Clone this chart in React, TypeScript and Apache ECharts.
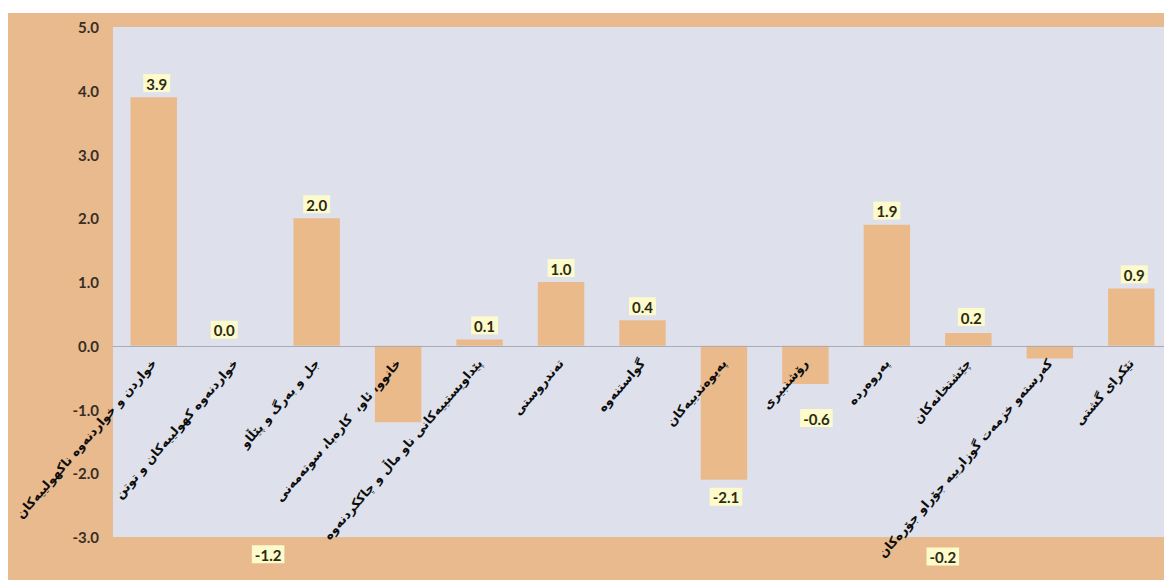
import React, { useEffect, useRef } from "react";
import * as echarts from "echarts";

const categories: string[] = [
  "خواردن و خواردنەوە ناکهولییەکان",
  "خواردنەوە کهولییەکان و توتن",
  "جل و بەرگ و پێڵاو",
  "خانوو، ئاو،  کارەبا، سوتەمەنی",
  "پێداویستییەکانی ناو ماڵ و چاککردنەوە",
  "تەندروستی",
  "گواستنەوە",
  "پەیوەندییەکان",
  "رۆشنبیری",
  "پەروەردە",
  "چێشتخانەکان",
  "کەرستەو خزمەت گوزارییە جۆراو جۆرەکان",
  "تێکرای گشتی",
];

const values: number[] = [3.9, 0.0, 2.0, -1.2, 0.1, 1.0, 0.4, -2.1, -0.6, 1.9, 0.2, -0.2, 0.9];

const yTicks = { min: -3, max: 5, interval: 1 };

// label offsets (styling only)
const labelOffsets: [number, number][] = [
  [3, 0], [-11, -2], [0, 0], [-130, 118], [5, 0], [0, 0], [0, 0],
  [2, 3], [11, 20], [0, 0], [3, -2], [-107, 184], [3, 0],
];

const GRID_TOP = 14;
const GRID_BOTTOM = 43;
const CHART_H = 567;

export default function App() {
  const ref = useRef<HTMLDivElement>(null);
  useEffect(() => {
    if (!ref.current) return;
    const chart = echarts.init(ref.current, undefined, { renderer: "svg" });
    const numFont = "Lato, 'Liberation Sans', sans-serif";
    const plotH = CHART_H - GRID_TOP - GRID_BOTTOM;
    const zeroFromBottom = (plotH * (0 - yTicks.min)) / (yTicks.max - yTicks.min);
    chart.setOption({
      animation: false,
      backgroundColor: "#E8BA8E",
      grid: {
        left: 105,
        top: GRID_TOP,
        right: -8,
        bottom: GRID_BOTTOM,
        containLabel: false,
        outerBoundsMode: "none",
        show: true,
        backgroundColor: "#DEE1EB",
        borderWidth: 0,
      },
      xAxis: {
        type: "category",
        data: categories,
        position: "bottom",
        offset: -zeroFromBottom,
        z: 5,
        axisLine: { onZero: false, lineStyle: { color: "#A9ABB8", width: 1 } },
        axisTick: { show: false },
        axisLabel: {
          interval: 0,
          rotate: 49,
          margin: 15,
          fontFamily: "'DejaVu Sans', sans-serif",
          fontWeight: "bold",
          fontSize: 12.5,
          color: "#0d0d0d",
        },
      },
      yAxis: {
        type: "value",
        min: yTicks.min,
        max: yTicks.max,
        interval: yTicks.interval,
        axisLine: { show: false },
        axisTick: { show: false },
        splitLine: { show: false },
        axisLabel: {
          margin: 14,
          fontFamily: numFont,
          fontWeight: "bold",
          fontSize: 15,
          color: "#3a2e24",
          formatter: (v: number) => v.toFixed(1),
        },
      },
      series: [
        {
          type: "bar",
          barWidth: "57%",
          itemStyle: { color: "#EABA8B" },
          data: values.map((v, i) => ({
            value: v,
            label: {
              show: true,
              position: v < 0 ? "bottom" : "top",
              distance: 5,
              offset: labelOffsets[i],
              formatter: (p: any) => Number(p.value).toFixed(1),
              backgroundColor: "#FDFBCB",
              padding: [2, 3, 1, 3],
              fontFamily: numFont,
              fontWeight: "bold",
              fontSize: 15,
              color: "#2b2a14",
            },
          })),
        },
      ],
    });
    return () => chart.dispose();
  }, []);
  return (
    <div
      ref={ref}
      style={{ position: "absolute", left: 8, top: 13, width: 1156, height: CHART_H }}
    />
  );
}
